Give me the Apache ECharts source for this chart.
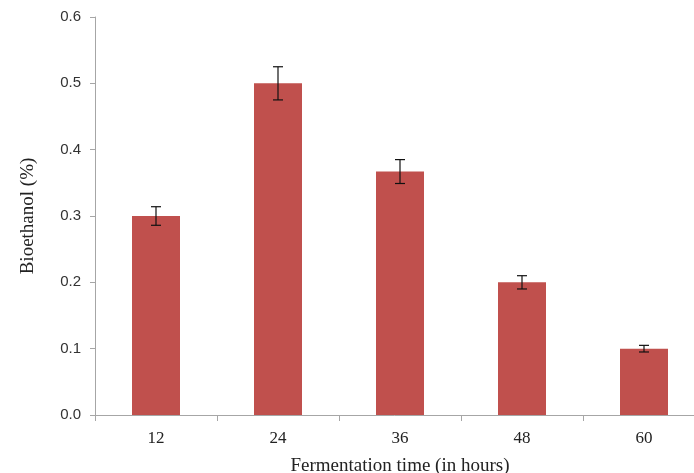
<!DOCTYPE html>
<html>
<head>
<meta charset="utf-8">
<script src="https://cdn.jsdelivr.net/npm/echarts@6/dist/echarts.min.js"></script>
<style>
  html, body { margin: 0; padding: 0; background: #fff; }
  #chart { width: 694px; height: 473px; }
</style>
</head>
<body>
<div id="chart"></div>
<script>
// Bioethanol yield by fermentation time
const categories = ['12', '24', '36', '48', '60'];
const bioethanol = [0.300, 0.500, 0.367, 0.200, 0.100];
const errors = [0.014, 0.025, 0.018, 0.010, 0.005];
const yTicks = [0.0, 0.1, 0.2, 0.3, 0.4, 0.5, 0.6];

const chart = echarts.init(document.getElementById('chart'));

const errorData = categories.map((c, i) => [i, bioethanol[i] - errors[i], bioethanol[i] + errors[i]]);

chart.setOption({
  animation: false,
  grid: { left: 95, top: 17, width: 610, height: 398, containLabel: false, outerBoundsMode: 'none' },
  xAxis: {
    type: 'category',
    data: categories,
    name: 'Fermentation time (in hours)',
    nameLocation: 'middle',
    nameGap: 42,
    nameTextStyle: { fontFamily: 'Liberation Serif', fontSize: 19, color: '#222' },
    axisLine: { lineStyle: { color: '#a6a6a6', width: 1 } },
    axisTick: { show: true, alignWithLabel: false, length: 6, lineStyle: { color: '#a6a6a6' } },
    axisLabel: { fontFamily: 'Liberation Serif', fontSize: 17, color: '#222', margin: 15 }
  },
  yAxis: {
    type: 'value',
    min: yTicks[0],
    max: yTicks[yTicks.length - 1],
    interval: 0.1,
    name: 'Bioethanol (%)',
    nameLocation: 'middle',
    nameGap: 57,
    nameTextStyle: { fontFamily: 'Liberation Serif', fontSize: 19, color: '#222' },
    splitLine: { show: false },
    axisLine: { show: true, lineStyle: { color: '#a6a6a6', width: 1 } },
    axisTick: { show: true, length: 5, lineStyle: { color: '#a6a6a6' } },
    axisLabel: {
      fontFamily: 'Liberation Sans', fontSize: 15, color: '#333', margin: 14,
      formatter: v => v.toFixed(1)
    }
  },
  series: [
    {
      type: 'bar',
      data: bioethanol,
      barWidth: 48,
      itemStyle: { color: '#c0504d' }
    },
    {
      type: 'custom',
      data: errorData,
      z: 10,
      renderItem: function (params, api) {
        const x = api.value(0);
        const lo = api.coord([x, api.value(1)]);
        const hi = api.coord([x, api.value(2)]);
        const half = 5;
        const style = { stroke: '#111', lineWidth: 1.2 };
        return {
          type: 'group',
          children: [
            { type: 'line', shape: { x1: lo[0], y1: lo[1], x2: hi[0], y2: hi[1] }, style },
            { type: 'line', shape: { x1: hi[0] - half, y1: hi[1], x2: hi[0] + half, y2: hi[1] }, style },
            { type: 'line', shape: { x1: lo[0] - half, y1: lo[1], x2: lo[0] + half, y2: lo[1] }, style }
          ]
        };
      }
    }
  ]
});
</script>
</body>
</html>
